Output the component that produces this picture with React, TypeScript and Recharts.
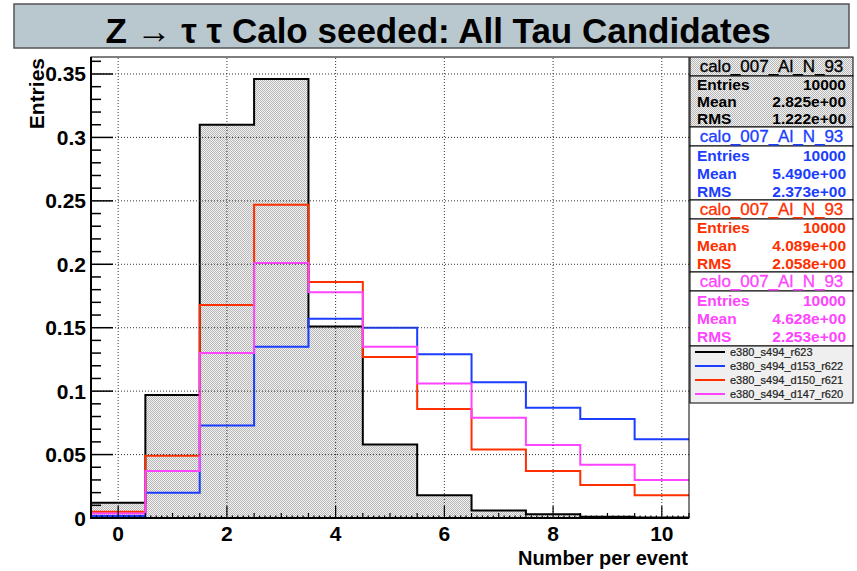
import React from "react";
import { ComposedChart, Area, Line, XAxis, YAxis, ReferenceLine } from "recharts";

// bin centres of the histogram (unit-width bins)
const binCenters = [0, 1, 2, 3, 4, 5, 6, 7, 8, 9, 10];

// normalised entries per bin, one array per sample
const r623 = [0.012, 0.097, 0.31, 0.346, 0.151, 0.058, 0.018, 0.006, 0.003, 0.001, 0.0003];
const d153r622 = [0.0016, 0.02, 0.073, 0.135, 0.157, 0.15, 0.129, 0.107, 0.087, 0.078, 0.062];
const d150r621 = [0.005, 0.049, 0.168, 0.247, 0.186, 0.127, 0.086, 0.054, 0.037, 0.026, 0.018];
const d147r620 = [0.0035, 0.037, 0.13, 0.201, 0.178, 0.135, 0.106, 0.079, 0.0575, 0.042, 0.03];

const xMajorTicks = [0, 2, 4, 6, 8, 10];
const yMajorTicks = [0, 0.05, 0.1, 0.15, 0.2, 0.25, 0.3, 0.35];
const yTickLabels = ["0", "0.05", "0.1", "0.15", "0.2", "0.25", "0.3", "0.35"];

const legendLabels = ["e380_s494_r623", "e380_s494_d153_r622", "e380_s494_d150_r621", "e380_s494_d147_r620"];
const statNames = ["calo_007_Al_N_93", "calo_007_Al_N_93", "calo_007_Al_N_93", "calo_007_Al_N_93"];
const statEntries = ["10000", "10000", "10000", "10000"];
const statMeans = ["2.825e+00", "5.490e+00", "4.089e+00", "4.628e+00"];
const statRms = ["1.222e+00", "2.373e+00", "2.058e+00", "2.253e+00"];

const colors = ["#000000", "#1a3dff", "#ff2f00", "#ff44ff"];
const FONT = '"Liberation Sans", Arial, Helvetica, sans-serif';

const PLOT_L = 91;
const PLOT_T = 57;
const PLOT_R = 689;
const PLOT_B = 518;

const rows = binCenters.map((c, i) => ({
  x: c - 0.5,
  r623: r623[i],
  r622: d153r622[i],
  r621: d150r621[i],
  r620: d147r620[i],
}));
const last = binCenters.length - 1;
rows.push({
  x: binCenters[last] + 0.5,
  r623: r623[last],
  r622: d153r622[last],
  r621: d150r621[last],
  r620: d147r620[last],
});

const yAllTicks = Array.from({ length: 37 }, (_, i) => i / 100);
const xAllTicks = Array.from({ length: 111 }, (_, i) => (i - 5) / 10);

function YTick({ y, payload }: any) {
  const v = payload.value;
  const idx = yMajorTicks.findIndex((m) => Math.abs(m - v) < 1e-6);
  const major = idx >= 0;
  return (
    <g>
      <line x1={PLOT_L} x2={PLOT_L + (major ? 22 : 10)} y1={y} y2={y} stroke="#000" strokeWidth={1.5} />
      {major && (
        <text x={86} y={y + 7.5} textAnchor="end" fontFamily={FONT} fontWeight="bold" fontSize={21} fill="#000">
          {yTickLabels[idx]}
        </text>
      )}
    </g>
  );
}

function XTick({ x, payload }: any) {
  const v = payload.value;
  const major = xMajorTicks.some((m) => Math.abs(m - v) < 1e-6);
  const half = Math.abs(v * 2 - Math.round(v * 2)) < 1e-6;
  const len = major ? 12 : half ? 5 : 2.5;
  return (
    <g>
      <line x1={x} x2={x} y1={PLOT_B} y2={PLOT_B - len} stroke="#000" strokeWidth={1.2} />
      {major && (
        <text x={x} y={541} textAnchor="middle" fontFamily={FONT} fontWeight="bold" fontSize={21} fill="#000">
          {String(v)}
        </text>
      )}
    </g>
  );
}

const statTops = [57, 127, 200, 272];
const statHeaderH = [19, 19, 19, 19];
const statBodyH = [51, 54, 53, 55];

function Overlay() {
  return (
    <svg width={857} height={571} style={{ position: "absolute", left: 0, top: 0, pointerEvents: "none" }}>
      <defs>
        <pattern id="statHatch" width={2} height={2} patternUnits="userSpaceOnUse">
          <rect width={2} height={2} fill="#f3f3f3" />
          <rect width={1} height={1} fill="#b6b6b6" />
          <rect x={1} y={1} width={1} height={1} fill="#b6b6b6" />
        </pattern>
      </defs>
      {/* title box */}
      <rect x={14} y={4} width={835} height={44} fill="#b9c7cf" stroke="#555" strokeWidth={1.5} />
      <text x={438} y={43} textAnchor="middle" fontFamily={FONT} fontWeight="bold" fontSize={35} fill="#000">
        Z → τ τ Calo seeded: All Tau Candidates
      </text>
      {/* plot frame */}
      <rect x={PLOT_L} y={PLOT_T} width={PLOT_R - PLOT_L} height={PLOT_B - PLOT_T} fill="none" stroke="#000" strokeWidth={1} />
      <line x1={PLOT_L} x2={PLOT_L} y1={PLOT_T} y2={PLOT_B + 1} stroke="#000" strokeWidth={2} />
      <line x1={PLOT_L} x2={PLOT_R} y1={PLOT_B} y2={PLOT_B} stroke="#000" strokeWidth={2} />
      {/* axis titles */}
      <text
        x={44}
        y={58}
        transform="rotate(-90 44 58)"
        textAnchor="end"
        fontFamily={FONT}
        fontWeight="bold"
        fontSize={21}
        fill="#000"
      >
        Entries
      </text>
      <text x={688} y={565} textAnchor="end" fontFamily={FONT} fontWeight="bold" fontSize={20} fill="#000">
        Number per event
      </text>
      {/* stats boxes */}
      {statNames.map((name, i) => {
        const top = statTops[i];
        const hh = statHeaderH[i];
        const bh = statBodyH[i];
        const fill = i === 0 ? "url(#statHatch)" : "#ffffff";
        const rowH = bh / 3;
        const labels = ["Entries", "Mean", "RMS"];
        const vals = [statEntries[i], statMeans[i], statRms[i]];
        return (
          <g key={i}>
            <rect x={690} y={top} width={163} height={hh} fill={fill} stroke="#000" strokeWidth={1} />
            <rect x={690} y={top + hh} width={163} height={bh} fill={fill} stroke="#000" strokeWidth={1} />
            <text x={771.5} y={top + hh / 2 + 5} textAnchor="middle" fontFamily={FONT} fontSize={17} fill={colors[i]} stroke={colors[i]} strokeWidth={0.3}>
              {name}
            </text>
            {labels.map((lab, j) => (
              <g key={lab}>
                <text x={697} y={top + hh + rowH * (j + 0.5) + 5.5} fontFamily={FONT} fontWeight="bold" fontSize={15.5} fill={colors[i]}>
                  {lab}
                </text>
                <text
                  x={846}
                  y={top + hh + rowH * (j + 0.5) + 5.5}
                  textAnchor="end"
                  fontFamily={FONT}
                  fontWeight="bold"
                  fontSize={15.5}
                  fill={colors[i]}
                >
                  {vals[j]}
                </text>
              </g>
            ))}
          </g>
        );
      })}
      {/* legend */}
      <rect x={690} y={346} width={163} height={57} fill="#efefef" stroke="#000" strokeWidth={1} />
      {legendLabels.map((lab, i) => {
        const cy = 352 + i * 14;
        return (
          <g key={lab}>
            <line x1={695} x2={725} y1={cy} y2={cy} stroke={colors[i]} strokeWidth={2} />
            <text x={730} y={cy + 4} fontFamily={FONT} fontSize={11} fill="#222" stroke="#222" strokeWidth={0.2}>
              {lab}
            </text>
          </g>
        );
      })}
    </svg>
  );
}

export default function App() {
  return (
    <div style={{ position: "absolute", left: 0, top: 0, width: 857, height: 571, background: "#fff", fontFamily: FONT }}>
      <ComposedChart width={857} height={571} data={rows} margin={{ top: PLOT_T, right: 857 - PLOT_R, bottom: 0, left: 0 }}>
        <defs>
          <pattern id="histHatch" width={2} height={2} patternUnits="userSpaceOnUse">
            <rect width={2} height={2} fill="#f3f3f3" />
            <rect width={1} height={1} fill="#b6b6b6" />
            <rect x={1} y={1} width={1} height={1} fill="#b6b6b6" />
          </pattern>
        </defs>
        <XAxis
          type="number"
          dataKey="x"
          domain={[-0.5, 10.5]}
          ticks={xAllTicks}
          interval={0}
          height={571 - PLOT_B}
          tickSize={0}
          tickMargin={0}
          axisLine={false}
          tickLine={false}
          tick={<XTick />}
          allowDataOverflow
        />
        <YAxis
          type="number"
          domain={[0, 0.3634]}
          ticks={yAllTicks}
          interval={0}
          width={PLOT_L}
          tickSize={0}
          tickMargin={0}
          axisLine={false}
          tickLine={false}
          tick={<YTick />}
          allowDataOverflow
        />
        <Area
          type="stepAfter"
          dataKey="r623"
          stroke={colors[0]}
          strokeWidth={2}
          fill="url(#histHatch)"
          fillOpacity={1}
          baseValue={0}
          dot={false}
          activeDot={false}
          isAnimationActive={false}
        />
        <Line type="stepAfter" dataKey="r622" stroke={colors[1]} strokeWidth={2} dot={false} activeDot={false} isAnimationActive={false} />
        <Line type="stepAfter" dataKey="r621" stroke={colors[2]} strokeWidth={2} dot={false} activeDot={false} isAnimationActive={false} />
        <Line type="stepAfter" dataKey="r620" stroke={colors[3]} strokeWidth={2} dot={false} activeDot={false} isAnimationActive={false} />
        {xMajorTicks.map((t) => (
          <ReferenceLine key={"gx" + t} x={t} stroke="#333" strokeDasharray="1 2" strokeWidth={1} />
        ))}
        {yMajorTicks.slice(1).map((t) => (
          <ReferenceLine key={"gy" + t} y={t} stroke="#333" strokeDasharray="1 2" strokeWidth={1} />
        ))}
      </ComposedChart>
      <Overlay />
    </div>
  );
}
